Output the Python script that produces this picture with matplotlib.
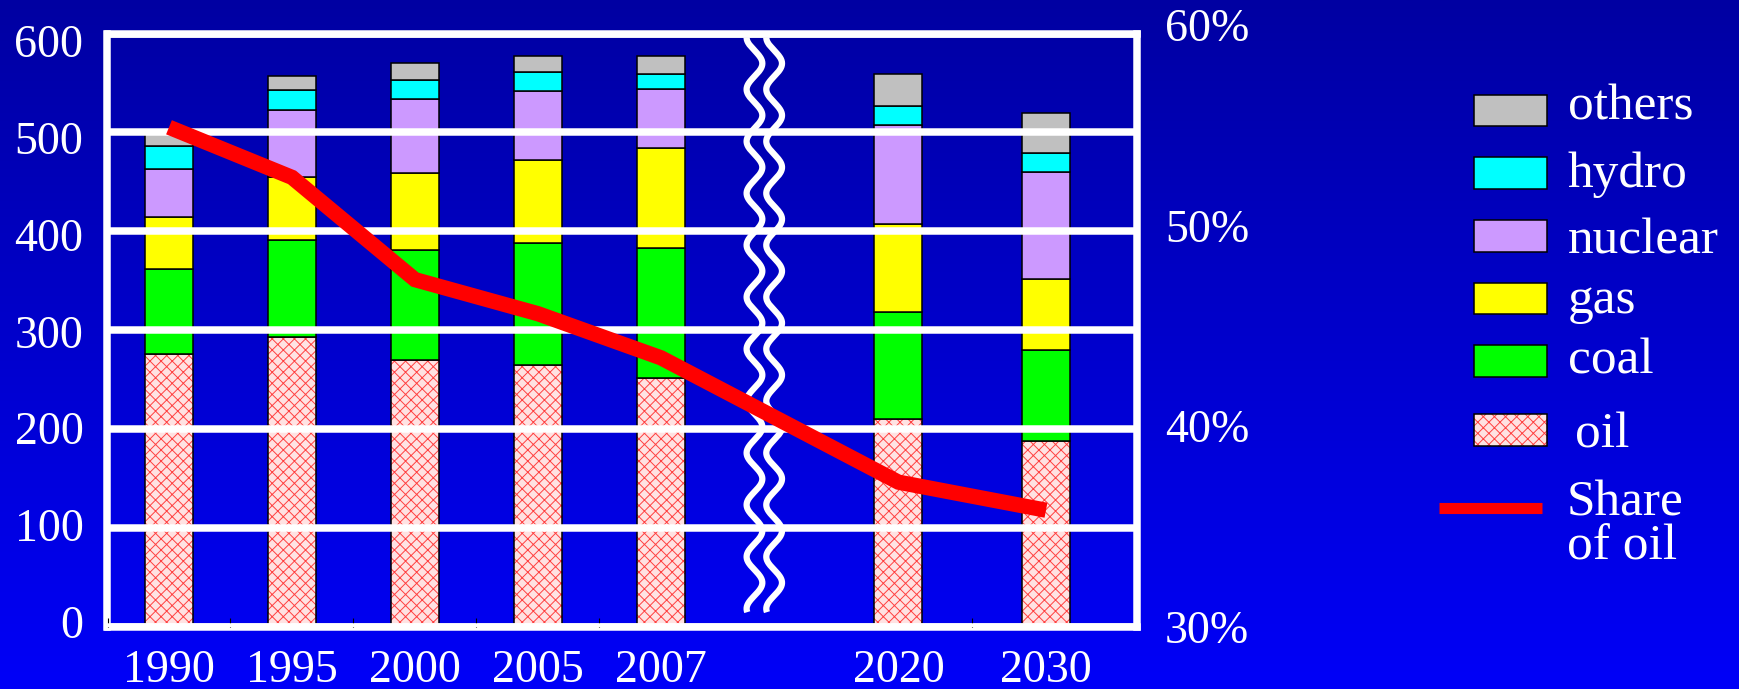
import numpy as np
import matplotlib.pyplot as plt
from matplotlib.colors import LinearSegmentedColormap
from matplotlib.patches import Rectangle

plt.rcParams['font.family'] = ['Liberation Serif', 'Times New Roman', 'DejaVu Serif']
plt.rcParams['hatch.linewidth'] = 0.7

# data (Mtoe by source, share of oil in %)
years = ['1990', '1995', '2000', '2005', '2007', '2020', '2030']
oil = [276, 293, 270, 265, 252, 210, 188]
coal = [86, 98, 111, 123, 131, 108, 92]
gas = [52, 64, 78, 84, 101, 89, 72]
nuclear = [49, 68, 75, 70, 60, 101, 108]
hydro = [23, 20, 19, 19, 15, 19, 19]
others = [12, 14, 17, 16, 18, 32, 41]
share_oil = [54.9, 52.4, 47.3, 45.6, 43.4, 37.2, 35.8]

# layout: bar positions (gap for the time break)
xpos = [0, 1, 2, 3, 4, 5.93, 7.13]
bar_w = 0.39

W, H = 1740, 689


def box(l, t, r, b):
    return [l / W, 1 - b / H, (r - l) / W, (b - t) / H]


fig = plt.figure(figsize=(W / 100, H / 100), dpi=100)

# background gradient
bg = fig.add_axes([0, 0, 1, 1])
cmap = LinearSegmentedColormap.from_list('bg', ['#0000A2', '#0000F8'])
bg.imshow(np.linspace(0, 1, 256).reshape(-1, 1), cmap=cmap, aspect='auto',
          extent=[0, W, H, 0], zorder=0)
bg.set_xlim(0, W)
bg.set_ylim(H, 0)
bg.axis('off')

# main axes with the stacked bars
ax = fig.add_axes(box(107.5, 33.5, 1136.5, 627))
ax.set_facecolor('none')
for s in ax.spines.values():
    s.set_color('white')
    s.set_linewidth(5.4)
ax.set_xlim(-0.5, 7.866)
ax.set_ylim(0, 600)
ax.set_yticks(range(0, 601, 100))
ax.set_yticklabels([])
ax.tick_params(axis='y', length=0)
ax.grid(axis='y', color='white', lw=5.4)
ax.set_axisbelow(False)

ax.set_xticks(xpos)
ax.set_xticklabels(years, color='white', fontsize=33)
ax.tick_params(axis='x', which='major', length=0, pad=16)
ax.set_xticks([-0.5, 0.5, 1.5, 2.5, 3.5, 6.53], minor=True)
ax.tick_params(axis='x', which='minor', length=6.5, width=0.8,
               color='black', direction='in')

# oil: hatched
oil_face, oil_hatch = '#FFE2E2', '#FF4040'
ax.bar(xpos, oil, bar_w, color=oil_face, edgecolor=oil_hatch, hatch='xxx', lw=0)
ax.bar(xpos, oil, bar_w, fill=False, edgecolor='black', lw=1.1)
bottom = np.array(oil, dtype=float)
layers = [(coal, '#00FF00'), (gas, '#FFFF00'), (nuclear, '#CC99FF'),
          (hydro, '#00FFFF'), (others, '#C0C0C0')]
for vals, col in layers:
    ax.bar(xpos, vals, bar_w, bottom=bottom, color=col, edgecolor='black', lw=1.1)
    bottom += vals

# break marks
yy = np.linspace(15, 596, 800)
for xc in [4.76, 4.92]:
    ax.plot(xc - 0.064 * np.cos(2 * np.pi * (596 - yy) / 52.5), yy,
            color='white', lw=4.5, solid_capstyle='butt', zorder=3)

# left labels
axL = fig.add_axes(box(107.5, 40.5, 1136.5, 622))
axL.set_facecolor('none')
for s in axL.spines.values():
    s.set_visible(False)
axL.set_ylim(0, 600)
axL.set_xticks([])
axL.set_yticks(range(0, 601, 100))
axL.tick_params(axis='y', length=0, pad=17.3, labelsize=33, labelcolor='white')

# right axis: share of oil
axR = fig.add_axes(box(107.5, 25, 1136.5, 626.5))
axR.set_facecolor('none')
for s in axR.spines.values():
    s.set_visible(False)
axR.set_xlim(-0.5, 7.866)
axR.set_ylim(30, 60)
axR.set_xticks([])
axR.yaxis.tick_right()
axR.set_yticks([30, 40, 50, 60])
axR.set_yticklabels(['30%', '40%', '50%', '60%'])
axR.tick_params(axis='y', length=0, pad=20.5, labelsize=33, labelcolor='white')
axR.plot(xpos, share_oil, color='#FF0000', lw=11, solid_capstyle='butt',
         solid_joinstyle='miter')

# legend (drawn in pixel coords)
leg_items = [('others', '#C0C0C0', 94.5, 119.5),
             ('hydro', '#00FFFF', 157, 186.7),
             ('nuclear', '#CC99FF', 220, 254),
             ('gas', '#FFFF00', 282.5, 312.8),
             ('coal', '#00FF00', 345, 373.5),
             ('oil', None, 414, 447)]
for label, col, top, base in leg_items:
    if col is None:
        bg.add_patch(Rectangle((1474, top), 73, 31.5, facecolor=oil_face,
                               edgecolor=oil_hatch, hatch='xxx', lw=0))
        bg.add_patch(Rectangle((1474, top), 73, 31.5, fill=False,
                               edgecolor='black', lw=1.1))
        bg.text(1575, base, label, color='white', fontsize=37, va='baseline')
    else:
        bg.add_patch(Rectangle((1474, top), 73, 31.5, facecolor=col,
                               edgecolor='black', lw=1.1))
        bg.text(1568, base, label, color='white', fontsize=37, va='baseline')
bg.plot([1439, 1542], [508, 508], color='#FF0000', lw=8, solid_capstyle='butt')
bg.text(1567, 515, 'Share', color='white', fontsize=37, va='baseline')
bg.text(1567, 560, 'of oil', color='white', fontsize=37, va='baseline')

fig.savefig('out.png', dpi=100)
